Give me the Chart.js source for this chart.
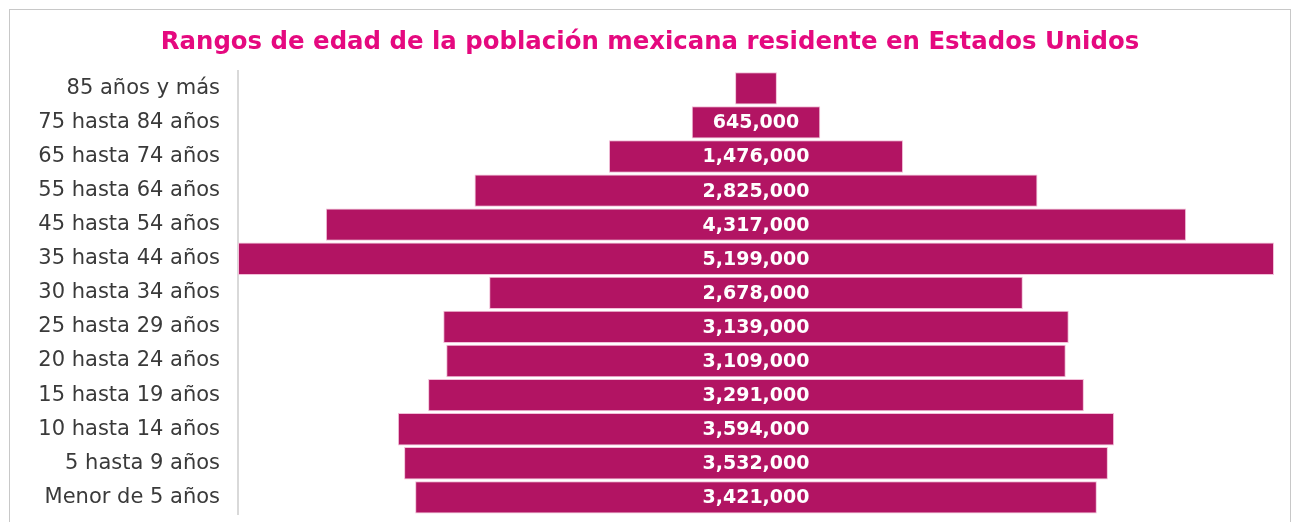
<!DOCTYPE html>
<html>
<head>
<meta charset="utf-8">
<script src="https://cdn.jsdelivr.net/npm/chart.js@4.4.0/dist/chart.umd.min.js"></script>
<style>
  html, body { margin: 0; padding: 0; background: #fff; }
  body { width: 1295px; height: 522px; overflow: hidden; position: relative; }
  #frame {
    position: absolute; left: 9px; top: 9px; width: 1282px; height: 540px;
    border: 1px solid #c8c8c8; box-sizing: border-box;
  }
  #wrap { position: absolute; left: 10px; top: 10px; width: 1280px; height: 535px; }
</style>
</head>
<body>
<div id="frame"></div>
<div id="wrap"><canvas id="chart" width="1280" height="535"></canvas></div>
<script>
// categorias de arriba hacia abajo
var categories = [
  '85 años y más', '75 hasta 84 años', '65 hasta 74 años', '55 hasta 64 años',
  '45 hasta 54 años', '35 hasta 44 años', '30 hasta 34 años', '25 hasta 29 años',
  '20 hasta 24 años', '15 hasta 19 años', '10 hasta 14 años', '5 hasta 9 años',
  'Menor de 5 años'
];
var population = [
  210000, 645000, 1476000, 2825000,
  4317000, 5199000, 2678000, 3139000,
  3109000, 3291000, 3594000, 3532000,
  3421000
];
var titleText = 'Rangos de edad de la población mexicana residente en Estados Unidos';

var maxVal = Math.max.apply(null, population);
var fontFam = "'DejaVu Sans', sans-serif";

// bars centered on zero, like a pyramid
var floating = population.map(function (v) { return [-v / 2, v / 2]; });

// draws the value inside each bar (no datalabels plugin available)
var valueLabels = {
  id: 'valueLabels',
  afterDatasetsDraw: function (chart) {
    var ctx = chart.ctx;
    var meta = chart.getDatasetMeta(0);
    ctx.save();
    ctx.font = 'bold 19px ' + fontFam;
    ctx.fillStyle = '#ffffff';
    ctx.textAlign = 'center';
    ctx.textBaseline = 'middle';
    meta.data.forEach(function (bar, i) {
      var txt = population[i].toLocaleString('en-US');
      var w = Math.abs(bar.x - bar.base);
      if (ctx.measureText(txt).width + 8 > w) return;
      ctx.fillText(txt, (bar.x + bar.base) / 2, bar.y + 1);
    });
    ctx.restore();
  }
};

var ctx = document.getElementById('chart').getContext('2d');
window.pyramid = new Chart(ctx, {
  type: 'bar',
  data: {
    labels: categories,
    datasets: [{
      data: floating,
      backgroundColor: '#b21463',
      borderColor: '#f2bfd8',
      borderWidth: 1,
      borderSkipped: false,
      barPercentage: 0.95,
      categoryPercentage: 1
    }]
  },
  options: {
    indexAxis: 'y',
    responsive: false,
    animation: false,
    layout: { padding: { left: 16, right: 16, top: 0, bottom: 0 } },
    plugins: {
      legend: { display: false },
      tooltip: { enabled: false },
      title: {
        display: true,
        text: titleText,
        color: '#e5097f',
        font: { family: fontFam, size: 24.4, weight: 'bold' },
        padding: { top: 18, bottom: 14 }
      }
    },
    scales: {
      x: {
        display: false,
        min: -maxVal / 2,
        max: maxVal / 2
      },
      y: {
        grid: { display: false, drawTicks: false },
        border: { display: true, color: '#d9d9d9', width: 2 },
        ticks: {
          color: '#3a3a3a',
          padding: 18,
          autoSkip: false,
          font: { family: fontFam, size: 21 }
        },
        afterFit: function (scale) { scale.width = 212; }
      }
    }
  },
  plugins: [valueLabels]
});
</script>
</body>
</html>
